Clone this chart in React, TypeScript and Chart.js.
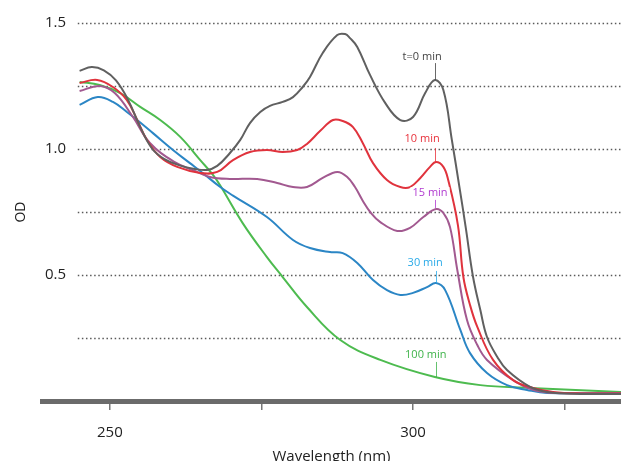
import React, { useEffect, useRef } from 'react';
import { Chart, registerables } from 'chart.js';
Chart.register(...registerables);

// ---- data (wavelength in nm, optical density) ----
const t0Nm = [245.0, 247.0, 249.0, 251.0, 253.0, 255.0, 257.0, 259.0, 261.5, 264.0, 266.0, 267.7, 269.8, 271.5, 273.1, 274.8, 276.4, 278.5, 280.2, 281.8, 283.0, 285.1, 287.5, 288.8, 289.6, 290.8, 292.9, 295.4, 297.9, 300.0, 302.0, 303.6, 305.0, 306.4, 307.6, 308.7, 309.9, 311.1, 312.2, 313.9, 315.5, 319.3, 322.1, 327.6, 334.3];
const t0OD = [1.310, 1.325, 1.312, 1.272, 1.195, 1.087, 1.000, 0.960, 0.935, 0.921, 0.917, 0.933, 0.984, 1.036, 1.103, 1.147, 1.171, 1.187, 1.206, 1.246, 1.286, 1.381, 1.452, 1.456, 1.440, 1.405, 1.294, 1.183, 1.115, 1.127, 1.222, 1.274, 1.234, 1.036, 0.857, 0.687, 0.492, 0.361, 0.254, 0.175, 0.123, 0.056, 0.036, 0.028, 0.028];

const t10Nm = [245.0, 247.9, 250.5, 252.8, 254.5, 256.1, 258.3, 261.1, 264.9, 267.7, 270.3, 273.1, 275.9, 278.5, 280.9, 282.5, 284.7, 286.8, 288.4, 290.1, 291.7, 293.4, 295.7, 297.9, 299.5, 301.2, 302.8, 303.8, 305.0, 305.8, 307.4, 308.3, 309.4, 310.6, 313.2, 316.5, 319.8, 323.1, 327.6, 334.3];
const t10OD = [1.262, 1.274, 1.246, 1.194, 1.115, 1.036, 0.968, 0.929, 0.905, 0.909, 0.956, 0.988, 0.996, 0.988, 0.996, 1.020, 1.072, 1.115, 1.111, 1.087, 1.024, 0.944, 0.877, 0.849, 0.849, 0.885, 0.929, 0.948, 0.929, 0.877, 0.698, 0.492, 0.381, 0.294, 0.163, 0.083, 0.052, 0.036, 0.030, 0.030];

const t15Nm = [245.0, 248.3, 250.8, 253.8, 256.6, 260.7, 264.0, 266.5, 269.8, 274.3, 277.6, 280.2, 282.5, 285.1, 287.5, 289.1, 290.4, 291.7, 293.0, 294.6, 297.4, 299.5, 301.7, 303.8, 305.0, 306.1, 307.3, 308.9, 310.6, 312.2, 316.5, 319.8, 323.1, 334.3];
const t15OD = [1.230, 1.250, 1.222, 1.127, 1.024, 0.948, 0.913, 0.889, 0.881, 0.881, 0.865, 0.849, 0.849, 0.885, 0.909, 0.890, 0.850, 0.795, 0.748, 0.710, 0.675, 0.687, 0.730, 0.762, 0.746, 0.690, 0.520, 0.321, 0.222, 0.163, 0.083, 0.044, 0.032, 0.032];

const t30Nm = [245.0, 248.0, 250.5, 252.8, 254.5, 257.1, 260.4, 263.2, 265.3, 268.2, 270.3, 275.9, 280.2, 283.0, 286.3, 288.4, 290.8, 293.4, 295.7, 297.9, 300.0, 302.3, 303.8, 305.3, 307.8, 309.4, 312.2, 315.5, 318.8, 322.1, 334.3];
const t30OD = [1.175, 1.206, 1.187, 1.147, 1.115, 1.063, 0.996, 0.944, 0.905, 0.849, 0.815, 0.730, 0.639, 0.607, 0.591, 0.587, 0.548, 0.480, 0.440, 0.421, 0.429, 0.452, 0.468, 0.440, 0.282, 0.190, 0.111, 0.063, 0.044, 0.032, 0.032];

const t100Nm = [245.0, 248.3, 251.7, 255.0, 258.3, 261.6, 264.9, 267.0, 268.2, 271.9, 275.9, 278.5, 282.5, 288.0, 294.6, 303.6, 311.1, 319.3, 334.3];
const t100OD = [1.266, 1.254, 1.222, 1.167, 1.115, 1.048, 0.956, 0.897, 0.855, 0.706, 0.571, 0.492, 0.373, 0.242, 0.163, 0.095, 0.063, 0.052, 0.036];

const seriesNames = ['t=0 min', '10 min', '15 min', '30 min', '100 min'];
const lineColors = ['#606060', '#e0333d', '#a25990', '#2b86c5', '#4dbb4f'];
const labelColors = ['#444444', '#e8323c', '#b03ad0', '#2aaae8', '#3fb34a'];

// series label annotations (data coordinates)
const labelX = [301.5, 301.5, 302.8, 302.0, 302.1];
const labelY = [1.365, 1.040, 0.825, 0.548, 0.183];
const leaderX = [303.6, 303.6, 303.6, 303.8, 303.8];
const leaderTop = [1.341, 1.004, 0.798, 0.516, 0.155];
const leaderBottom = [1.274, 0.948, 0.766, 0.468, 0.095];

// axes
const xTickValues = [250, 275, 300, 325];
const xTickLabels = ['250', '', '300', ''];
const yTickValues = [0.5, 1.0, 1.5];
const yTickLabels = ['0.5', '1.0', '1.5'];
const gridValues = [0.25, 0.5, 0.75, 1.0, 1.25, 1.5];
const gridStartNm = 244.7;

const FONT = "'Open Sans', 'Noto Sans', sans-serif";

const gridPlugin = {
  id: 'dottedGrid',
  beforeDatasetsDraw(chart: any) {
    const { ctx, chartArea, scales } = chart;
    ctx.save();
    ctx.strokeStyle = '#5a5a5a';
    ctx.lineWidth = 1.3;
    ctx.setLineDash([1.5, 2.6]);
    const x0 = scales.x.getPixelForValue(gridStartNm);
    gridValues.forEach((v) => {
      const y = Math.round(scales.y.getPixelForValue(v)) + 0.5;
      ctx.beginPath();
      ctx.moveTo(x0, y);
      ctx.lineTo(chartArea.right, y);
      ctx.stroke();
    });
    ctx.restore();
  },
};

const labelPlugin = {
  id: 'seriesLabels',
  afterDatasetsDraw(chart: any) {
    const { ctx, scales } = chart;
    ctx.save();
    ctx.font = `11px ${FONT}`;
    ctx.textAlign = 'center';
    ctx.textBaseline = 'middle';
    seriesNames.forEach((name, i) => {
      const lx = Math.round(scales.x.getPixelForValue(leaderX[i])) + 0.5;
      ctx.strokeStyle = labelColors[i];
      ctx.globalAlpha = 0.8;
      ctx.lineWidth = 1;
      ctx.beginPath();
      ctx.moveTo(lx, scales.y.getPixelForValue(leaderTop[i]));
      ctx.lineTo(lx, scales.y.getPixelForValue(leaderBottom[i]));
      ctx.stroke();
      ctx.globalAlpha = 1;
      const cx = scales.x.getPixelForValue(labelX[i]);
      const cy = scales.y.getPixelForValue(labelY[i]);
      const w = ctx.measureText(name).width;
      ctx.fillStyle = '#ffffff';
      ctx.fillRect(cx - w / 2 - 2, cy - 6, w + 4, 12);
      ctx.fillStyle = labelColors[i];
      ctx.fillText(name, cx, cy);
    });
    ctx.restore();
  },
};

export default function App() {
  const ref = useRef<HTMLCanvasElement>(null);
  useEffect(() => {
    document.body.style.margin = '0';
    const canvas = ref.current!;
    const mk = (xs: number[], ys: number[]) => xs.map((x, i) => ({ x, y: ys[i] }));
    const sets = [
      [t0Nm, t0OD],
      [t10Nm, t10OD],
      [t15Nm, t15OD],
      [t30Nm, t30OD],
      [t100Nm, t100OD],
    ];
    const chart = new Chart(canvas, {
      type: 'line',
      data: {
        datasets: sets.map((s, i) => ({
          label: seriesNames[i],
          data: mk(s[0] as number[], s[1] as number[]),
          borderColor: lineColors[i],
          backgroundColor: lineColors[i],
          borderWidth: 2,
          pointRadius: 0,
          fill: false,
          tension: 0.4,
        })),
      },
      options: {
        responsive: false,
        animation: false,
        layout: { padding: { top: 23, left: 0, right: 0, bottom: 0 } },
        plugins: { legend: { display: false }, tooltip: { enabled: false } },
        scales: {
          x: {
            type: 'linear',
            min: 238.8,
            max: 334.3,
            afterBuildTicks: (s: any) => {
              s.ticks = xTickValues.map((v) => ({ value: v }));
            },
            afterFit: (s: any) => {
              s.height = 69;
              s.paddingLeft = 0;
              s.paddingRight = 0;
            },
            ticks: {
              autoSkip: false,
              maxRotation: 0,
              padding: 14,
              color: '#222',
              font: { family: FONT, size: 15 },
              callback: (v: any) => {
                const i = xTickValues.indexOf(Number(v));
                return i >= 0 ? xTickLabels[i] : '';
              },
            },
            grid: {
              drawOnChartArea: false,
              drawTicks: true,
              tickLength: 9,
              color: '#777',
              lineWidth: 1.5,
            },
            border: { display: true, color: '#6b6b6b', width: 5 },
            title: {
              display: true,
              text: 'Wavelength (nm)',
              color: '#222',
              font: { family: FONT, size: 15 },
              padding: { top: 0, bottom: 4 },
            },
          },
          y: {
            min: 0,
            max: 1.5,
            afterBuildTicks: (s: any) => {
              s.ticks = yTickValues.map((v) => ({ value: v }));
            },
            afterFit: (s: any) => {
              s.width = 42;
              s.paddingTop = 0;
              s.paddingBottom = 0;
            },
            ticks: {
              mirror: true,
              padding: 3,
              color: '#222',
              font: { family: FONT, size: 15 },
              callback: (v: any) => {
                const i = yTickValues.indexOf(Number(v));
                return i >= 0 ? yTickLabels[i] : '';
              },
            },
            grid: { display: false },
            border: { display: false },
            title: {
              display: true,
              text: 'OD',
              color: '#222',
              font: { family: FONT, size: 14 },
              padding: { top: 13, bottom: 0 },
            },
          },
        },
      },
      plugins: [gridPlugin, labelPlugin],
    } as any);
    return () => chart.destroy();
  }, []);
  return (
    <div style={{ position: 'absolute', left: 0, top: 0, width: 621, height: 461, overflow: 'hidden', background: '#fff' }}>
      <canvas ref={ref} width={621} height={470} style={{ display: 'block' }} />
    </div>
  );
}
